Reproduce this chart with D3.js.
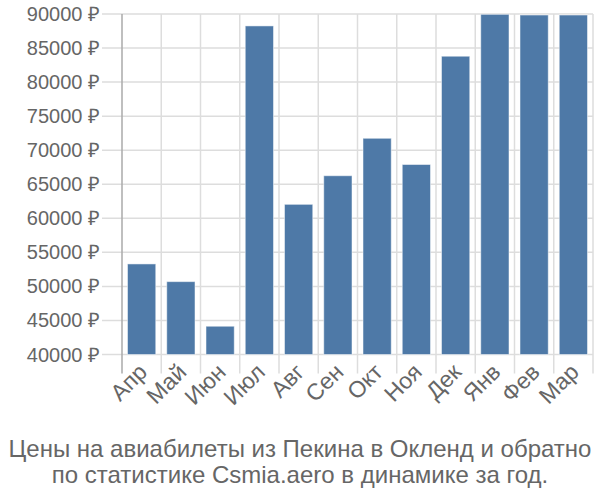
<!DOCTYPE html>
<html><head><meta charset="utf-8">
<script src="https://cdn.jsdelivr.net/npm/d3@7"></script>
<style>body{margin:0;background:#fff;} text{font-family:"Liberation Sans",Arial,sans-serif;}</style>
</head><body><svg id="c" width="600" height="500"></svg>
<script>
const months = ["Апр","Май","Июн","Июл","Авг","Сен","Окт","Ноя","Дек","Янв","Фев","Мар"];
const prices = [53300,50700,44150,88250,62050,66250,71750,67900,83800,89950,89850,89850];
const yTicks = [40000,45000,50000,55000,60000,65000,70000,75000,80000,85000,90000];
const titleLines = ["Цены на авиабилеты из Пекина в Окленд и обратно","по статистике Csmia.aero в динамике за год."];

const svg = d3.select("#c");
const m = {l:122, r:593, t:14, b:354.5};
const x = d3.scaleBand().domain(months).range([m.l, m.r]).paddingInner(0.28).paddingOuter(0.14);
const xg = d3.scaleBand().domain(months).range([m.l, m.r]);
const y = d3.scaleLinear().domain([40000,90000]).range([m.b, m.t]);

// horizontal gridlines
svg.append("g").selectAll("line").data(yTicks).join("line")
  .attr("x1", m.l-20).attr("x2", m.r).attr("y1", d=>y(d)).attr("y2", d=>y(d))
  .attr("stroke","#ddd").attr("stroke-width",1.5);
// vertical gridlines
const vx = months.map(d=>xg(d)).concat([m.r]);
svg.append("g").selectAll("line").data(vx.slice(1)).join("line")
  .attr("x1", d=>d).attr("x2", d=>d).attr("y1", m.t).attr("y2", m.b+19)
  .attr("stroke","#ddd").attr("stroke-width",1.5);
// y axis line
svg.append("line").attr("x1",m.l).attr("x2",m.l).attr("y1",m.t).attr("y2",m.b+19)
  .attr("stroke","#aaa").attr("stroke-width",1.5);

// y labels
svg.append("g").selectAll("text").data(yTicks).join("text")
  .attr("x",100).attr("y",d=>y(d)).attr("dy","0.35em").attr("text-anchor","end")
  .attr("fill","#666").attr("font-size",20).text(d=>d+" ₽");

// bars
svg.append("g").selectAll("rect").data(prices).join("rect")
  .attr("x",(d,i)=>x(months[i])).attr("width",x.bandwidth())
  .attr("y",d=>y(d)).attr("height",d=>y(40000)-y(d))
  .attr("fill","#4e79a7").attr("stroke","rgba(255,255,255,0.5)").attr("stroke-width",1);

// x labels
svg.append("g").selectAll("text").data(months).join("text")
  .attr("transform",d=>`translate(${xg(d)+xg.bandwidth()/2+7},${m.b+19}) rotate(-45)`)
  .attr("text-anchor","end").attr("fill","#666").attr("font-size",23).text(d=>d);

// title
svg.append("g").selectAll("text").data(titleLines).join("text")
  .attr("x",300).attr("y",(d,i)=>457+i*26).attr("text-anchor","middle")
  .attr("fill","#666").attr("font-size",24).text(d=>d);
</script></body></html>
